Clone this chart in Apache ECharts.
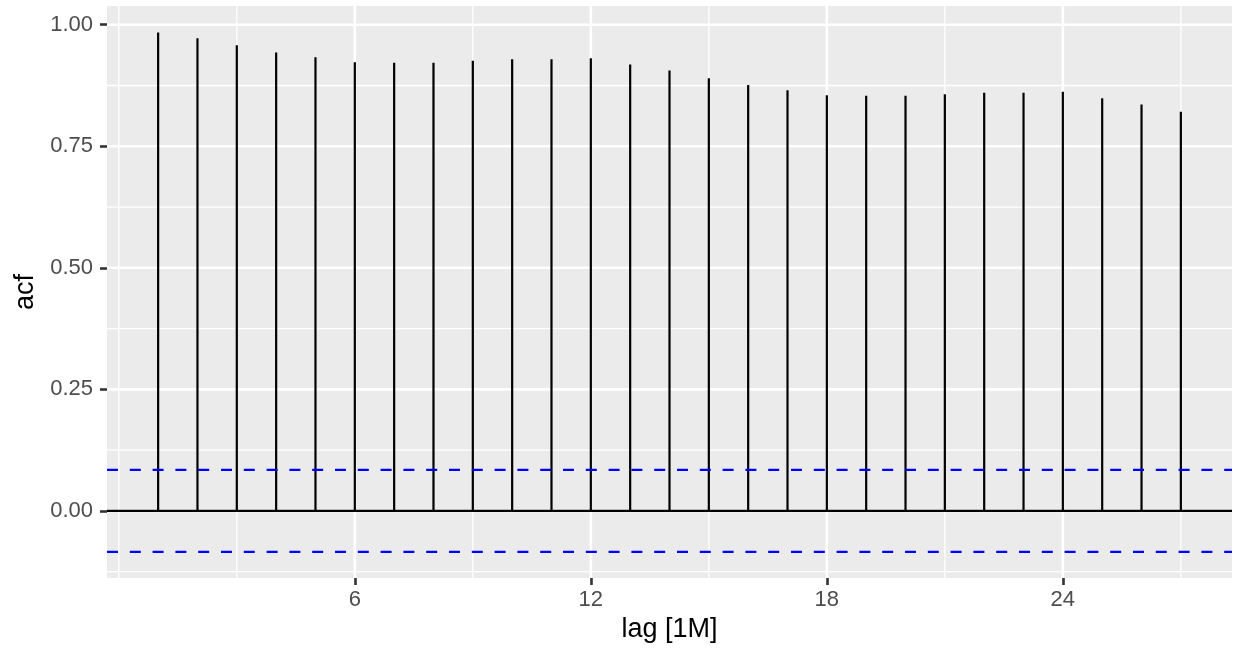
<!DOCTYPE html>
<html>
<head>
<meta charset="utf-8">
<script src="https://cdn.jsdelivr.net/npm/echarts@6/dist/echarts.min.js"></script>
<style>
html, body { margin: 0; padding: 0; background: #fff; }
#chart { width: 1235px; height: 651px; }
</style>
</head>
<body>
<div id="chart"></div>
<script>
// acf values
const lags = [1, 2, 3, 4, 5, 6, 7, 8, 9, 10, 11, 12, 13, 14, 15, 16, 17, 18, 19, 20, 21, 22, 23, 24, 25, 26, 27];
const acf = [0.984, 0.972, 0.958, 0.943, 0.933, 0.923, 0.922, 0.922, 0.926, 0.929, 0.929, 0.931, 0.918, 0.906, 0.890,
  0.876, 0.865, 0.855, 0.854, 0.854, 0.857, 0.860, 0.860, 0.862, 0.849, 0.836, 0.821];
const ci = 0.0843;
const xMajor = [6, 12, 18, 24];
const xMinor = [0, 3, 9, 15, 21, 27];
const yMajor = [0, 0.25, 0.5, 0.75, 1];
const yMinor = [-0.125, 0.125, 0.375, 0.625, 0.875];

const xMin = -0.3, xMax = 28.3;
const yMin = -0.138, yMax = 1.0385;

const myChart = echarts.init(document.getElementById('chart'));

// [axis, value, width] rows for the panel grid
function gridRows() {
  let rows = [];
  for (let v of xMinor) rows.push([0, v, 1.3]);
  for (let v of yMinor) rows.push([1, v, 1.3]);
  for (let v of xMajor) rows.push([0, v, 2.6]);
  for (let v of yMajor) rows.push([1, v, 2.6]);
  return rows;
}

const tickStyle = { color: '#333333', width: 2.6 };
const labelFont = { color: '#4D4D4D', fontSize: 22, fontFamily: 'Liberation Sans' };

const option = {
  animation: false,
  grid: {
    left: 107, right: 3, top: 6, bottom: 73,
    show: true, backgroundColor: '#EBEBEB', borderWidth: 0
  },
  xAxis: {
    type: 'value', min: xMin, max: xMax,
    name: 'lag [1M]', nameLocation: 'middle', nameGap: 37,
    nameTextStyle: { color: '#000', fontSize: 27, fontFamily: 'Liberation Sans' },
    axisLine: { show: false, onZero: false },
    splitLine: { show: false },
    axisTick: { show: true, inside: false, length: 7, customValues: xMajor, lineStyle: tickStyle },
    axisLabel: Object.assign({ customValues: xMajor, margin: 11 }, labelFont)
  },
  yAxis: {
    type: 'value', min: yMin, max: yMax,
    name: 'acf', nameLocation: 'middle', nameGap: 68, nameRotate: 90,
    nameTextStyle: { color: '#000', fontSize: 27, fontFamily: 'Liberation Sans' },
    axisLine: { show: false, onZero: false },
    splitLine: { show: false },
    axisTick: { show: true, inside: false, length: 7, customValues: yMajor, lineStyle: tickStyle },
    axisLabel: Object.assign({ customValues: yMajor, margin: 14, formatter: v => v.toFixed(2) }, labelFont)
  },
  series: [
    {
      // panel grid lines
      type: 'custom', z: 1, silent: true,
      data: gridRows(),
      renderItem: function (params, api) {
        const isX = api.value(0) === 0;
        const v = api.value(1);
        const a = isX ? api.coord([v, yMin]) : api.coord([xMin, v]);
        const b = isX ? api.coord([v, yMax]) : api.coord([xMax, v]);
        return {
          type: 'line',
          shape: { x1: a[0], y1: a[1], x2: b[0], y2: b[1] },
          style: { stroke: '#FFFFFF', lineWidth: api.value(2) }
        };
      }
    },
    {
      // zero line
      type: 'line', z: 3, symbol: 'none', silent: true,
      data: [[xMin, 0], [xMax, 0]],
      lineStyle: { color: '#000', width: 2.2 }
    },
    {
      type: 'custom', z: 4, silent: true,
      data: lags.map((l, i) => [l, acf[i]]),
      renderItem: function (params, api) {
        const p0 = api.coord([api.value(0), 0]);
        const p1 = api.coord([api.value(0), api.value(1)]);
        return {
          type: 'line',
          shape: { x1: p0[0], y1: p0[1], x2: p1[0], y2: p1[1] },
          style: { stroke: '#000', lineWidth: 2.2 }
        };
      }
    },
    {
      type: 'line', z: 5, symbol: 'none', silent: true,
      data: [[xMin, ci], [xMax, ci]],
      lineStyle: { color: '#0000FF', width: 2.2, type: [11, 11.8] }
    },
    {
      type: 'line', z: 5, symbol: 'none', silent: true,
      data: [[xMin, -ci], [xMax, -ci]],
      lineStyle: { color: '#0000FF', width: 2.2, type: [11, 11.8] }
    }
  ]
};

myChart.setOption(option);
</script>
</body>
</html>
